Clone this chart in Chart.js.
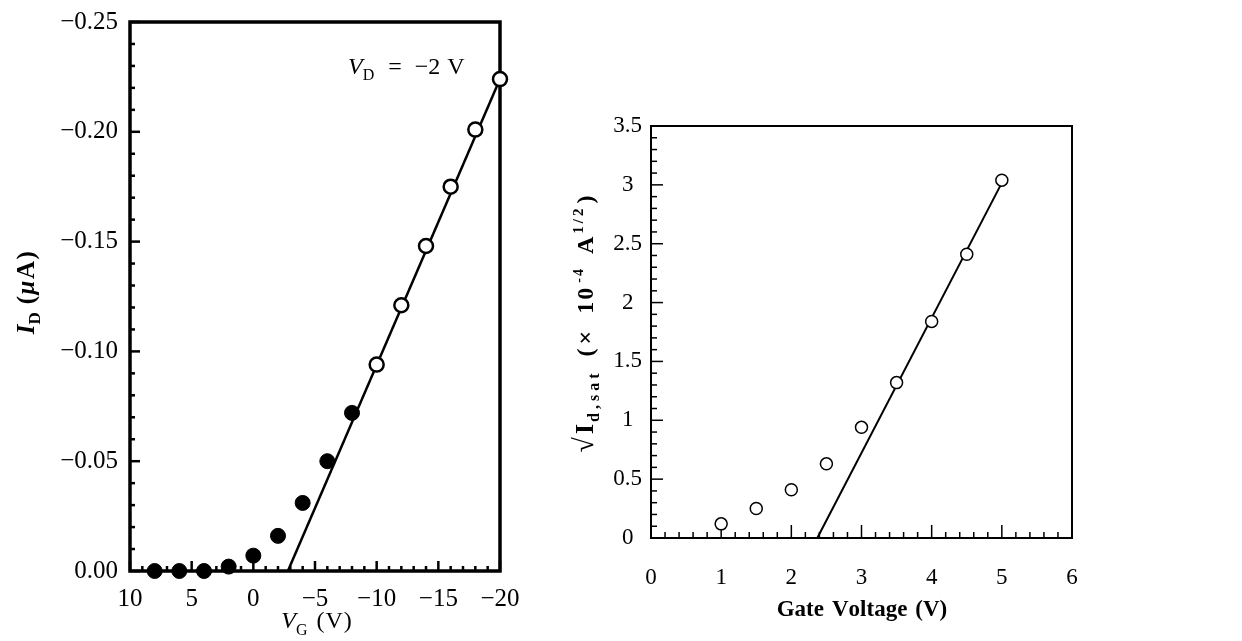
<!DOCTYPE html>
<html>
<head>
<meta charset="utf-8">
<script src="https://cdn.jsdelivr.net/npm/chart.js@4.4.1/dist/chart.umd.min.js"></script>
<style>
html, body { margin: 0; padding: 0; background: #fff; width: 1242px; height: 641px; overflow: hidden; }
.box { position: absolute; top: 0; height: 641px; }
#leftBox { left: 0; width: 540px; }
#rightBox { left: 560px; width: 682px; }
</style>
</head>
<body>
<div class="box" id="leftBox"><canvas id="leftChart"></canvas></div>
<div class="box" id="rightBox"><canvas id="rightChart"></canvas></div>
<script>
// left panel: I_D vs V_G at V_D = -2 V
const vgFilled = [8, 6, 4, 2, 0, -2, -4, -6, -8];
const idFilled = [0.000, 0.000, 0.000, -0.002, -0.007, -0.016, -0.031, -0.050, -0.072];
const vgOpen = [-10, -12, -14, -16, -18, -20];
const idOpen = [-0.094, -0.121, -0.148, -0.175, -0.201, -0.224];
const vgFit = [-2.8, -20];
const idFit = [0, -0.224];
const vgTicks = [10, 5, 0, -5, -10, -15, -20];
const idTicks = [0, -0.05, -0.10, -0.15, -0.20, -0.25];

// right panel: sqrt(Id,sat) vs gate voltage
const gateV = [1, 1.5, 2, 2.5, 3, 3.5, 4, 4.5, 5];
const sqrtId = [0.12, 0.25, 0.41, 0.63, 0.94, 1.32, 1.84, 2.41, 3.04];
const gateFit = [2.37, 5.02];
const sqrtFit = [0, 3.04];
const gateTicks = [0, 1, 2, 3, 4, 5, 6];
const sqrtTicks = [0, 0.5, 1, 1.5, 2, 2.5, 3, 3.5];

const SERIF = "'Liberation Serif', 'DejaVu Serif', serif";
Chart.defaults.font.family = SERIF;
Chart.defaults.color = '#000';

const pts = (xs, ys) => xs.map((x, i) => ({ x: x, y: ys[i] }));
const minus = s => String(s).replace('-', '\u2212');

// box frame + inward major/minor ticks
const framePlugin = {
    id: 'frame',
    beforeDatasetsDraw(chart, args, o) {
        const ctx = chart.ctx, a = chart.chartArea;
        ctx.save();
        ctx.strokeStyle = '#000';
        ctx.lineWidth = o.tickWidth;
        ['x', 'y'].forEach(k => {
            const s = chart.scales[k], t = o[k];
            const n = Math.round((s.max - s.min) / t.step);
            for (let i = 0; i <= n; i++) {
                const v = s.min + i * t.step;
                const len = (Math.round(v / t.step) % t.every === 0) ? t.major : t.minor;
                const p = s.getPixelForValue(v);
                ctx.beginPath();
                if (k === 'x') { ctx.moveTo(p, a.bottom); ctx.lineTo(p, a.bottom - len); }
                else { ctx.moveTo(a.left, p); ctx.lineTo(a.left + len, p); }
                ctx.stroke();
            }
        });
        ctx.lineWidth = o.width;
        ctx.strokeRect(a.left, a.top, a.right - a.left, a.bottom - a.top);
        ctx.restore();
    }
};

// mixed-style text (italic, sub/superscripts) for axis titles and notes
function drawRuns(ctx, runs, x, y, rotate, align) {
    ctx.save();
    ctx.translate(x, y);
    if (rotate) ctx.rotate(rotate);
    ctx.fillStyle = '#000';
    ctx.textBaseline = 'alphabetic';
    ctx.textAlign = 'left';
    let w = 0;
    runs.forEach(r => {
        ctx.font = r.f;
        w += (r.dx || 0);
        for (const ch of r.t) w += ctx.measureText(ch).width + (r.sp || 0);
    });
    let cx = align === 'center' ? -w / 2 : 0;
    runs.forEach(r => {
        ctx.font = r.f;
        cx += (r.dx || 0);
        for (const ch of r.t) {
            ctx.fillText(ch, cx, r.dy || 0);
            cx += ctx.measureText(ch).width + (r.sp || 0);
        }
    });
    ctx.restore();
}

const labelPlugin = {
    id: 'labels',
    afterDraw(chart, args, o) {
        o.items.forEach(it => drawRuns(chart.ctx, it.runs, it.x, it.y, it.rotate, it.align));
    }
};

const f = (style, size) => style + ' ' + size + 'px ' + SERIF;

window.leftChart = new Chart(document.getElementById('leftChart'), {
    type: 'scatter',
    data: {
        datasets: [
            { data: pts(vgOpen, idOpen), pointRadius: 7, backgroundColor: '#fff', borderColor: '#000', borderWidth: 2.5, clip: false },
            { data: pts(vgFilled, idFilled), pointRadius: 7.5, backgroundColor: '#000', borderColor: '#000', borderWidth: 1, clip: false },
            { data: pts(vgFit, idFit), showLine: true, pointRadius: 0, borderColor: '#000', borderWidth: 2.5, clip: false }
        ]
    },
    options: {
        responsive: true,
        maintainAspectRatio: false,
        animation: false,
        events: [],
        layout: { padding: { top: 22, right: 40, left: 0, bottom: 0 } },
        scales: {
            x: {
                type: 'linear', min: -20, max: 10, reverse: true,
                afterBuildTicks: s => { s.ticks = vgTicks.map(v => ({ value: v })); },
                afterFit: s => { s.height = 70; },
                grid: { display: false, drawTicks: false },
                border: { display: false },
                ticks: { padding: 13, maxRotation: 0, autoSkip: false, font: { size: 25 }, callback: v => minus(v) }
            },
            y: {
                type: 'linear', min: -0.25, max: 0, reverse: true,
                afterBuildTicks: s => { s.ticks = idTicks.map(v => ({ value: v })); },
                afterFit: s => { s.width = 130; s.paddingTop = 0; s.paddingBottom = 0; },
                grid: { display: false, drawTicks: false },
                border: { display: false },
                ticks: { padding: 12, autoSkip: false, font: { size: 25 }, callback: v => minus(Math.abs(v) < 1e-9 ? '0.00' : v.toFixed(2)) }
            }
        },
        plugins: {
            legend: { display: false },
            tooltip: { enabled: false },
            frame: { width: 3.5, tickWidth: 2.5, x: { step: 1, every: 5, major: 10, minor: 5 }, y: { step: 0.01, every: 5, major: 10, minor: 5 } },
            labels: {
                items: [
                    { x: 348, y: 74, runs: [
                        { t: 'V', f: f('italic', 24) }, { t: 'D', f: f('normal', 16), dy: 6 },
                        { t: '=', f: f('normal', 24), dx: 14 }, { t: '\u22122', f: f('normal', 24), dx: 13 },
                        { t: 'V', f: f('normal', 24), dx: 7 }] },
                    { x: 317, y: 628, align: 'center', runs: [
                        { t: 'V', f: f('italic', 24) }, { t: 'G', f: f('normal', 16), dy: 7 },
                        { t: '(V)', f: f('normal', 24), dx: 9, sp: 1 }] },
                    { x: 34, y: 292, rotate: -Math.PI / 2, align: 'center', runs: [
                        { t: 'I', f: f('italic bold', 25) }, { t: 'D', f: f('bold', 17), dy: 6 },
                        { t: '(', f: f('bold', 25), dx: 8, sp: 1.5 }, { t: '\u03bc', f: f('italic bold', 25), sp: 1.5 },
                        { t: 'A)', f: f('bold', 25), sp: 1.5 }] }
                ]
            }
        }
    },
    plugins: [framePlugin, labelPlugin]
});

window.rightChart = new Chart(document.getElementById('rightChart'), {
    type: 'scatter',
    data: {
        datasets: [
            { data: pts(gateV, sqrtId), pointRadius: 6, backgroundColor: '#fff', borderColor: '#000', borderWidth: 1.5, clip: false },
            { data: pts(gateFit, sqrtFit), showLine: true, pointRadius: 0, borderColor: '#000', borderWidth: 2, clip: false }
        ]
    },
    options: {
        responsive: true,
        maintainAspectRatio: false,
        animation: false,
        events: [],
        layout: { padding: { top: 126, right: 170, left: 0, bottom: 0 } },
        scales: {
            x: {
                type: 'linear', min: 0, max: 6,
                afterBuildTicks: s => { s.ticks = gateTicks.map(v => ({ value: v })); },
                afterFit: s => { s.height = 103; },
                grid: { display: false, drawTicks: false },
                border: { display: false },
                ticks: { padding: 26, maxRotation: 0, autoSkip: false, font: { size: 23 }, callback: v => String(v) }
            },
            y: {
                type: 'linear', min: 0, max: 3.5,
                afterBuildTicks: s => { s.ticks = sqrtTicks.map(v => ({ value: v })); },
                afterFit: s => { s.width = 91; s.paddingTop = 0; s.paddingBottom = 0; },
                grid: { display: false, drawTicks: false },
                border: { display: false },
                ticks: { padding: 9, crossAlign: 'center', autoSkip: false, font: { size: 23 }, callback: v => String(v) }
            }
        },
        plugins: {
            legend: { display: false },
            tooltip: { enabled: false },
            frame: { width: 2, tickWidth: 1.5, x: { step: 0.2, every: 5, major: 13, minor: 6 }, y: { step: 0.1, every: 5, major: 12, minor: 6 } },
            labels: {
                items: [
                    { x: 302, y: 616, align: 'center', runs: [
                        { t: 'Gate', f: f('bold', 23) }, { t: 'Voltage', f: f('bold', 23), dx: 8 },
                        { t: '(V)', f: f('bold', 23), dx: 8 }] },
                    { x: 33, y: 324, rotate: -Math.PI / 2, align: 'center', runs: [
                        { t: '\u221a', f: f('bold', 28), sp: 3 }, { t: 'I', f: f('bold', 26), sp: 2 },
                        { t: 'd,sat', f: f('bold', 16), dy: 6, sp: 4 },
                        { t: '(\u00d7', f: f('bold', 24), dx: 13, sp: 4 },
                        { t: '10', f: f('bold', 24), dx: 13, sp: 2 }, { t: '-4', f: f('bold', 14), dy: -10, dx: 3, sp: 2 },
                        { t: 'A', f: f('bold', 24), dx: 13, sp: 3 }, { t: '1/2', f: f('bold', 15), dy: -10, sp: 3 },
                        { t: ')', f: f('bold', 24), dx: 2 }] }
                ]
            }
        }
    },
    plugins: [framePlugin, labelPlugin]
});
</script>
</body>
</html>
